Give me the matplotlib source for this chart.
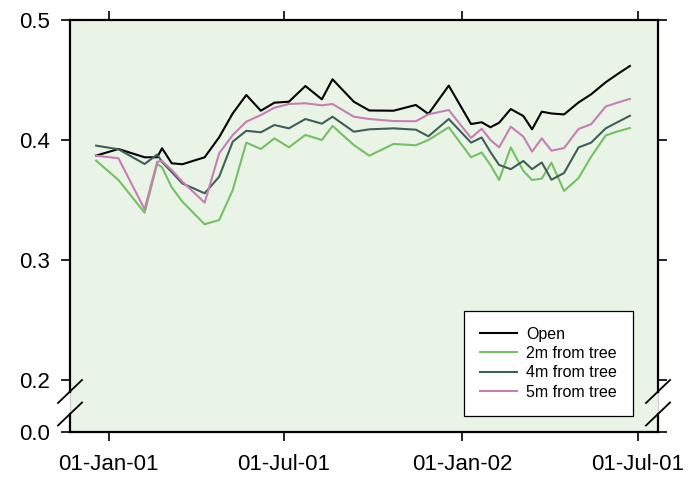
import matplotlib
matplotlib.use("Agg")
import matplotlib.pyplot as plt
from datetime import datetime

plt.rcParams['font.family'] = ['Liberation Sans', 'DejaVu Sans']

# sampling dates
dates = ["2000-12-19", "2001-01-11", "2001-02-07", "2001-02-20", "2001-02-25",
         "2001-03-07", "2001-03-18", "2001-04-10", "2001-04-25", "2001-05-09",
         "2001-05-23", "2001-06-07", "2001-06-21", "2001-07-06", "2001-07-23",
         "2001-08-09", "2001-08-20", "2001-09-11", "2001-09-27", "2001-10-22",
         "2001-11-14", "2001-11-27", "2001-12-18", "2002-01-10", "2002-01-21",
         "2002-01-30", "2002-02-08", "2002-02-20", "2002-03-05", "2002-03-14",
         "2002-03-24", "2002-04-03", "2002-04-16", "2002-05-01", "2002-05-14",
         "2002-05-29", "2002-06-10", "2002-06-23"]

open_site = [0.387, 0.3925, 0.3856, 0.3856, 0.3931, 0.3806, 0.3798, 0.3856, 0.4023, 0.4222,
             0.4375, 0.4244, 0.4311, 0.4319, 0.445, 0.4339, 0.4506, 0.4319, 0.4246, 0.4244,
             0.4292, 0.4217, 0.4453, 0.4133, 0.4148, 0.4106, 0.4144, 0.4258, 0.42, 0.4089,
             0.4236, 0.4221, 0.4213, 0.4313, 0.4381, 0.4481, 0.4548, 0.4617]
tree_2m = [0.3828, 0.3667, 0.3394, 0.38, 0.3773, 0.3606, 0.3486, 0.3298, 0.3333, 0.3583,
           0.3978, 0.3925, 0.4014, 0.3939, 0.4042, 0.40, 0.4117, 0.3958, 0.3869, 0.3967,
           0.3956, 0.40, 0.4106, 0.3856, 0.3896, 0.3792, 0.3667, 0.3939, 0.3742, 0.3667,
           0.3678, 0.3811, 0.3575, 0.3683, 0.3861, 0.4038, 0.4071, 0.41]
tree_4m = [0.3953, 0.3923, 0.38, 0.3879, 0.3817, 0.3733, 0.3638, 0.3556, 0.3694, 0.3986,
           0.4077, 0.4064, 0.4125, 0.4097, 0.4175, 0.4136, 0.4194, 0.4069, 0.4089, 0.4097,
           0.4086, 0.4031, 0.4175, 0.3978, 0.4021, 0.39, 0.3792, 0.3757, 0.3825, 0.3757,
           0.3813, 0.3669, 0.3725, 0.3938, 0.3978, 0.4097, 0.4148, 0.4202]
tree_5m = [0.3869, 0.3848, 0.3423, 0.3819, 0.3825, 0.375, 0.3653, 0.3478, 0.3889, 0.4042,
           0.4153, 0.4208, 0.4269, 0.43, 0.4306, 0.4289, 0.43, 0.4194, 0.4175, 0.4158,
           0.4156, 0.4214, 0.425, 0.4017, 0.4094, 0.40, 0.3939, 0.4111, 0.4028, 0.3903,
           0.4014, 0.3911, 0.3933, 0.4092, 0.4132, 0.4279, 0.4311, 0.4343]

labels = ["Open", "2m from tree", "4m from tree", "5m from tree"]
colors = ["#000000", "#74c064", "#3f5f58", "#c67fb4"]

xticks = ["2001-01-01", "2001-07-01", "2002-01-01", "2002-07-01"]
xticklabels = ["01-Jan-01", "01-Jul-01", "01-Jan-02", "01-Jul-01"]
yticks = [0.2, 0.3, 0.4, 0.5]
ybottom = 0.5 - 412 / 1200  # where the broken axis shows 0.0

x = [datetime.strptime(d, "%Y-%m-%d") for d in dates]

fig = plt.figure(figsize=(6.97, 4.78), dpi=100)
ax = fig.add_axes([70 / 697, 46 / 478, 588 / 697, 412 / 478])
ax.set_facecolor("#eaf4e6")

for ys, lab, c in zip([open_site, tree_2m, tree_4m, tree_5m], labels, colors):
    ax.plot(x, ys, color=c, lw=1.5, label=lab)

ax.set_xlim(datetime(2000, 11, 22), datetime(2002, 7, 22))
ax.set_ylim(ybottom, 0.5)
ax.set_xticks([datetime.strptime(d, "%Y-%m-%d") for d in xticks])
ax.set_xticklabels(xticklabels)
ax.set_yticks([ybottom] + yticks)
ax.set_yticklabels(["0.0"] + ["%.1f" % v for v in yticks])

ax.tick_params(direction="out", length=6.5, width=1.2, top=True, right=True,
               labelsize=16, colors="black")
ax.tick_params(axis="y", pad=8)
ax.tick_params(axis="x", pad=9)

for s in ["top", "bottom"]:
    ax.spines[s].set_linewidth(1.6)
ax.spines["left"].set_visible(False)
ax.spines["right"].set_visible(False)

# broken y axis: spine pieces + slashes
y_lo, y_hi = 0.0437, 0.0983
dx, dy = 0.0204, 0.0279
for xa in (0, 1):
    ax.plot([xa, xa], [0, y_lo], transform=ax.transAxes, color="k", lw=1.6,
            clip_on=False, solid_capstyle="projecting", zorder=5)
    ax.plot([xa, xa], [y_hi, 1], transform=ax.transAxes, color="k", lw=1.6,
            clip_on=False, solid_capstyle="projecting", zorder=5)
    ax.plot([xa, xa], [y_lo, y_hi], transform=ax.transAxes, color="#cfcfcf", lw=0.8,
            clip_on=False, zorder=4)
    for yc in (y_lo, y_hi):
        ax.plot([xa - dx, xa + dx], [yc - dy, yc + dy], transform=ax.transAxes,
                color="k", lw=1.3, clip_on=False, zorder=6)

leg = ax.legend(loc="lower right", bbox_to_anchor=(0.958, 0.0396), borderaxespad=0,
                fontsize=11.5, fancybox=False, framealpha=1, edgecolor="black",
                handlelength=2.3, handletextpad=0.6, labelspacing=0.27, borderpad=1.0)
leg.get_frame().set_linewidth(0.9)

fig.savefig("out.png", dpi=100)
